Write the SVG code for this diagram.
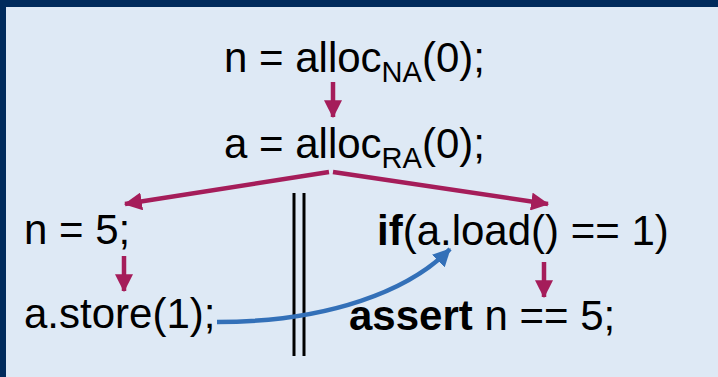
<svg xmlns="http://www.w3.org/2000/svg" width="718" height="377" viewBox="0 0 718 377">
<style>
.t{font-family:"Liberation Sans",Arial,sans-serif;font-size:42px;fill:#000}
.s{font-size:29px}
.b{font-weight:bold}
.po{stroke:#a51d5a;stroke-width:4.5;fill:none}
.rf{stroke:#3370b8;stroke-width:4.5;fill:none}
</style>
<defs>
<marker id="ap" markerUnits="userSpaceOnUse" markerWidth="18" markerHeight="18" viewBox="0 0 16 16" refX="15" refY="8" orient="auto">
<path d="M0,0 L16,8 L0,16 Z" fill="#a51d5a"/>
</marker>
<marker id="ab" markerUnits="userSpaceOnUse" markerWidth="18" markerHeight="18" viewBox="0 0 16 16" refX="15" refY="8" orient="auto">
<path d="M0,0 L16,8 L0,16 Z" fill="#3370b8"/>
</marker>
</defs>
<rect x="0" y="0" width="718" height="377" fill="#002b5c"/>
<rect x="6" y="7" width="712" height="370" fill="#dee9f5"/>
<g id="n1"><text class="t" x="224" y="72">n = alloc<tspan class="s" dy="10">NA</tspan><tspan dy="-10">(0);</tspan></text></g>
<g id="n2"><text class="t" x="224" y="158">a = alloc<tspan class="s" dy="10">RA</tspan><tspan dy="-10">(0);</tspan></text></g>
<g id="n3"><text class="t" x="24" y="244">n = 5;</text></g>
<g id="n4"><text class="t" x="24" y="328">a.store(1);</text></g>
<g id="n5"><text class="t" x="377" y="245"><tspan class="b">if</tspan>(a.load() == 1)</text></g>
<g id="n6"><text class="t" x="349" y="330"><tspan class="b">assert</tspan> n == 5;</text></g>
<g id="sep">
<line x1="294" y1="193" x2="294" y2="356" stroke="#000" stroke-width="3"/>
<line x1="304" y1="193" x2="304" y2="356" stroke="#000" stroke-width="3"/>
</g>
<g id="connectors">
<line class="po" x1="333" y1="82" x2="333" y2="117" marker-end="url(#ap)"/>
<line class="po" x1="329" y1="172" x2="125" y2="204" marker-end="url(#ap)"/>
<line class="po" x1="333" y1="172" x2="548" y2="204" marker-end="url(#ap)"/>
<line class="po" x1="124" y1="256" x2="124" y2="291" marker-end="url(#ap)"/>
<line class="po" x1="544" y1="262" x2="544" y2="297" marker-end="url(#ap)"/>
<path class="rf" d="M217,322 C330,322 410,290 450,249" marker-end="url(#ab)"/>
</g>
</svg>
